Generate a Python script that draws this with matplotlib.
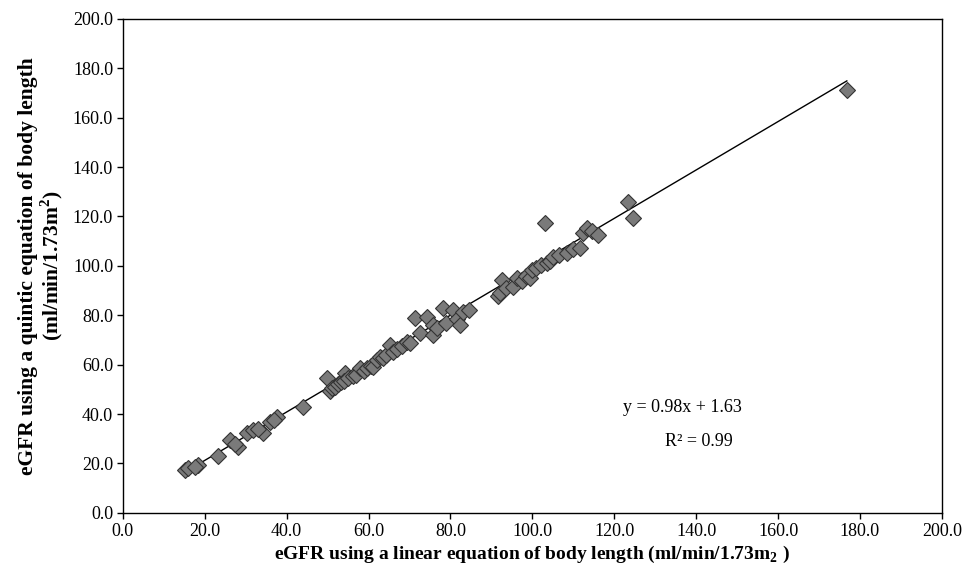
import matplotlib
matplotlib.use("Agg")
import matplotlib.pyplot as plt
import numpy as np

plt.rcParams['font.family'] = ['Liberation Serif', 'DejaVu Serif']
plt.rcParams['mathtext.fontset'] = 'custom'
plt.rcParams['mathtext.rm'] = 'Liberation Serif'
plt.rcParams['mathtext.bf'] = 'Liberation Serif:bold'

# eGFR linear (x) vs quintic (y)
x_linear = [15.1, 15.8, 18.3, 17.6, 23.2, 26.1, 28.1, 27.3, 30.3, 31.7, 34.2, 33.0,
            35.9, 37.6, 36.8, 44.0, 49.8, 50.5, 51.0, 51.8, 52.5, 53.2, 54.2, 54.0,
            55.0, 56.1, 57.0, 57.9, 58.8, 59.6, 60.5, 61.0, 62.0, 62.8, 63.5, 64.3,
            65.2, 66.0, 67.0, 68.2, 69.4, 70.1, 71.3, 72.5, 74.2, 75.7, 75.7, 76.8,
            78.1, 79.0, 80.6, 81.5, 82.3, 83.0, 84.5, 91.5, 92.0, 92.6, 93.5, 95.2,
            96.2, 97.5, 98.5, 99.4, 100.0, 101.0, 102.2, 103.0, 103.5, 104.4, 105.0,
            106.5, 108.4, 110.0, 111.6, 112.3, 113.3, 114.5, 116.0, 123.3, 124.5, 176.8]
y_quintic = [17.4, 18.0, 19.4, 18.6, 23.1, 29.6, 26.7, 28.0, 32.4, 33.6, 32.4, 34.0,
             36.8, 38.9, 37.5, 42.9, 54.7, 49.5, 50.5, 51.0, 52.2, 52.8, 56.7, 53.5,
             54.5, 55.5, 56.0, 58.7, 57.5, 58.5, 59.5, 59.1, 61.9, 63.2, 62.5, 63.8,
             68.0, 65.0, 66.2, 67.5, 69.0, 68.8, 78.9, 73.0, 79.4, 76.1, 72.1, 75.0,
             83.0, 77.0, 82.2, 78.5, 76.1, 81.4, 82.0, 88.0, 89.0, 94.3, 91.0, 91.5,
             95.1, 94.0, 96.0, 95.1, 98.5, 99.0, 100.5, 117.4, 101.2, 102.0, 103.6,
             104.5, 105.3, 107.0, 107.3, 113.4, 115.4, 114.0, 112.6, 125.9, 119.4, 171.2]

slope = 0.98
intercept = 1.63
eq_text = "y = 0.98x + 1.63"
r2_text = "R² = 0.99"
ticks = [0, 20, 40, 60, 80, 100, 120, 140, 160, 180, 200]

fig = plt.figure(figsize=(9.75, 5.73), dpi=100)
ax = fig.add_axes([0.126, 0.105, 0.840, 0.862])

xs = np.array([min(x_linear), max(x_linear)])
ax.plot(xs, slope * xs + intercept, color='black', lw=1.0, zorder=2)
ax.plot(x_linear, y_quintic, linestyle='none', marker='D', markersize=8.5,
        markerfacecolor='#7a7a7a', markeredgecolor='#333333', markeredgewidth=0.8, zorder=3)

ax.set_xlim(0, 200)
ax.set_ylim(0, 200)
ax.set_xticks(ticks)
ax.set_yticks(ticks)
ax.set_xticklabels([f"{t:.1f}" for t in ticks])
ax.set_yticklabels([f"{t:.1f}" for t in ticks])
ax.tick_params(direction='out', length=4, width=1, labelsize=13, colors='black', pad=3)
for s in ax.spines.values():
    s.set_linewidth(1.0)
    s.set_color('black')

ax.set_xlabel("eGFR using a linear equation of body length (ml/min/1.73m$_{\\mathbf{2}}$ )",
              fontsize=14, fontweight='bold', labelpad=3)
ax.set_ylabel("eGFR using a quintic equation of body length\n(ml/min/1.73m$^{\\mathbf{2}}$)",
              fontsize=15.5, fontweight='bold', labelpad=6, linespacing=1.0)

ax.text(122.1, 42.5, eq_text, fontsize=13, va='center', ha='left')
ax.text(132.4, 28.7, r2_text, fontsize=13, va='center', ha='left')

fig.savefig("out.png", dpi=100)
